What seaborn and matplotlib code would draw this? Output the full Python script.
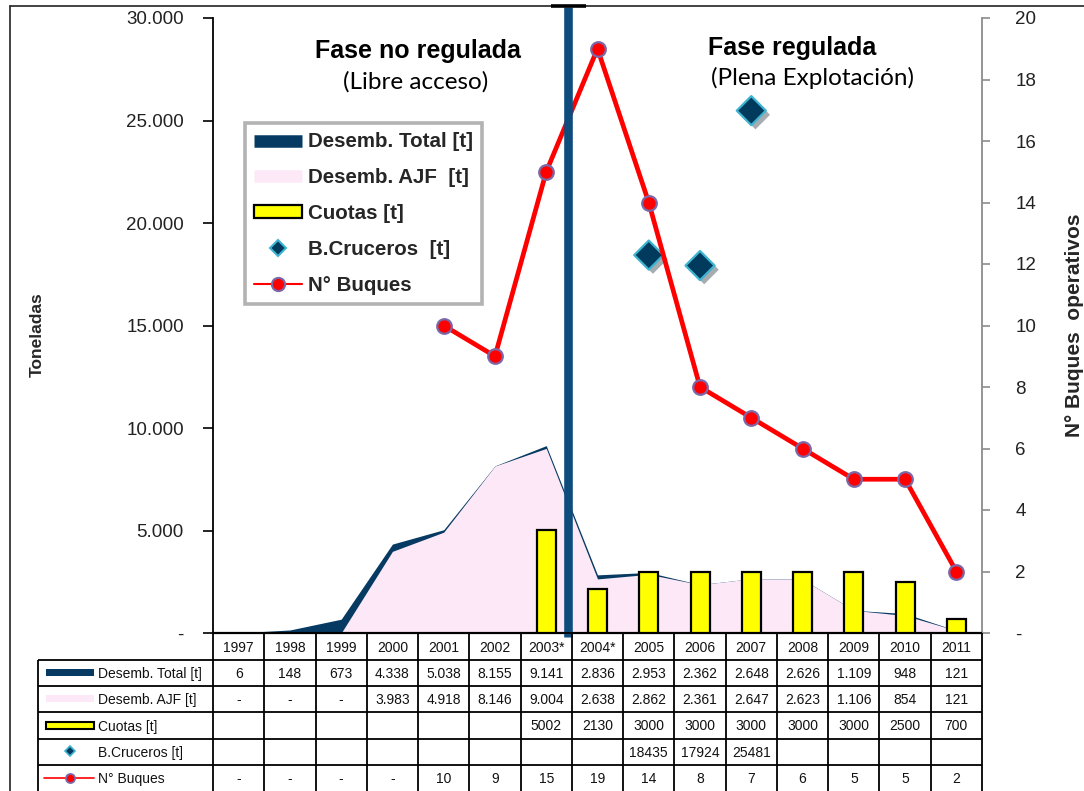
import numpy as np
import pandas as pd
import matplotlib
matplotlib.use("Agg")
import matplotlib.pyplot as plt
import matplotlib.patheffects as pe
from matplotlib.lines import Line2D
from matplotlib.patches import Patch, Rectangle
from matplotlib.ticker import FuncFormatter, MultipleLocator
import seaborn as sns

# ---------------- data ----------------
years = ['1997', '1998', '1999', '2000', '2001', '2002', '2003*', '2004*',
         '2005', '2006', '2007', '2008', '2009', '2010', '2011']
desemb_total = [6, 148, 673, 4338, 5038, 8155, 9141, 2836, 2953, 2362, 2648, 2626, 1109, 948, 121]
desemb_ajf = [np.nan, np.nan, np.nan, 3983, 4918, 8146, 9004, 2638, 2862, 2361, 2647, 2623, 1106, 854, 121]
cuotas = [np.nan] * 6 + [5002, 2130, 3000, 3000, 3000, 3000, 3000, 2500, 700]
cruceros = [np.nan] * 8 + [18435, 17924, 25481] + [np.nan] * 4
buques = [np.nan] * 4 + [10, 9, 15, 19, 14, 8, 7, 6, 5, 5, 2]
series_labels = ['Desemb. Total [t]', 'Desemb. AJF [t]', 'Cuotas [t]', 'B.Cruceros [t]', 'N° Buques']
legend_labels = ['Desemb. Total [t]', 'Desemb. AJF  [t]', 'Cuotas [t]', 'B.Cruceros  [t]', 'N° Buques']

df = pd.DataFrame({'year': years, 'total': desemb_total, 'ajf': desemb_ajf,
                   'cuotas': cuotas, 'cruceros': cruceros, 'buques': buques})
df['pos'] = np.arange(len(years))

# ---------------- style ----------------
sns.set_theme(style='white')
plt.rcParams['font.family'] = ['Liberation Sans', 'DejaVu Sans']

NAVY = '#073a63'
VLINE = '#0e4c7d'
PINK = '#fce8f6'
YELLOW = '#ffff00'
RED = '#ff0000'
MEDGE = '#7a68a8'
DIAM = '#003a5c'
DEDGE = '#3fb4d0'

W, H = 1084, 791
fig = plt.figure(figsize=(W / 100, H / 100), dpi=100)
fig.patch.set_facecolor('white')

L, R, T, B = 213, 982, 18, 633
ax = fig.add_axes([L / W, 1 - B / H, (R - L) / W, (B - T) / H])
ax.set_facecolor('none')
ax2 = ax.twinx()

# areas
x = df['pos'].to_numpy()
ax.fill_between(x, 0, df['total'].to_numpy(), color=NAVY, lw=0, zorder=1)
ax.fill_between(x, 0, df['ajf'].fillna(0).to_numpy(), color=PINK, lw=0, zorder=2)

# bars
sns.barplot(data=df, x='year', y='cuotas', order=years, ax=ax, color=YELLOW,
            saturation=1, edgecolor='black', linewidth=1.6, width=0.37, zorder=3)

# cruise survey diamonds
sns.scatterplot(data=df, x='pos', y='cruceros', ax=ax, marker='D', s=220,
                color=DIAM, edgecolor=DEDGE, linewidth=1.6, zorder=5,
                path_effects=[pe.SimplePatchShadow(offset=(3, -3), alpha=0.35), pe.Normal()])

# number of vessels
sns.lineplot(data=df, x='pos', y='buques', ax=ax2, color=RED, lw=3.4, marker='o',
             markersize=10.5, markerfacecolor=RED, markeredgecolor=MEDGE,
             markeredgewidth=1.6, zorder=6)

# axes settings
ax.set_xlim(-0.5, len(years) - 0.5)
ax.set_ylim(0, 30000)
ax2.set_ylim(0, 20)
ax.yaxis.set_major_locator(MultipleLocator(5000))
ax2.yaxis.set_major_locator(MultipleLocator(2))
ax.yaxis.set_major_formatter(FuncFormatter(lambda v, p: '-' if v == 0 else f"{int(v):,}".replace(',', '.')))
ax2.yaxis.set_major_formatter(FuncFormatter(lambda v, p: '-' if v == 0 else f"{int(v)}"))
ax.set_xticks([])
ax.set_xlabel('')
ax.set_ylabel('')
ax2.set_ylabel('')
ax2.set_xlabel('')
for a in (ax, ax2):
    a.spines['top'].set_visible(False)
ax.spines['right'].set_visible(False)
ax2.spines['left'].set_visible(False)
ax2.spines['bottom'].set_visible(False)
ax.spines['left'].set_color('black')
ax.spines['left'].set_linewidth(1.3)
ax.spines['bottom'].set_color('black')
ax.spines['bottom'].set_linewidth(1.6)
ax2.spines['right'].set_color('#8c8c8c')
ax2.spines['right'].set_linewidth(1.3)
ax.tick_params(axis='y', left=True, direction='out', length=7, width=1.2, color='black',
               labelsize=13.5, labelcolor='#222222', pad=14)
ax2.tick_params(axis='y', right=True, direction='out', length=6, width=1.2, color='#8c8c8c',
                labelsize=13.5, labelcolor='#222222', pad=18)

# phase separator
ax2.plot([6.42, 6.42], [-0.007, 1.018], transform=ax2.get_xaxis_transform(), color=VLINE,
         lw=6.2, solid_capstyle='butt', clip_on=False, zorder=10)

# annotations
ax2.text(0.2666, 0.946, 'Fase no regulada', transform=ax2.transAxes, ha='center', va='center',
         fontsize=18, fontweight='bold', color='black', zorder=11)
ax2.text(0.264, 0.897, '(Libre acceso)', transform=ax2.transAxes, ha='center', va='center',
         fontsize=17.5, family=['Lato', 'DejaVu Sans'], color='black', zorder=11)
ax2.text(0.753, 0.951, 'Fase regulada', transform=ax2.transAxes, ha='center', va='center',
         fontsize=18, fontweight='bold', color='black', zorder=11)
ax2.text(0.779, 0.902, '(Plena Explotación)', transform=ax2.transAxes, ha='center', va='center',
         fontsize=17.5, family=['Lato', 'DejaVu Sans'], color='black', zorder=11)

# axis titles
fig.text(37 / W, 1 - 335 / H, 'Toneladas', rotation=90, ha='center', va='center',
         fontsize=12.5, fontweight='bold')
fig.text(1075 / W, 1 - 325 / H, 'N° Buques  operativos', rotation=90, ha='center', va='center',
         fontsize=15, fontweight='bold')

# legend
handles = [
    Line2D([], [], color=NAVY, lw=9, solid_capstyle='butt'),
    Line2D([], [], color=PINK, lw=9, solid_capstyle='butt'),
    Patch(facecolor=YELLOW, edgecolor='black', linewidth=1.6),
    Line2D([], [], ls='none', marker='D', markersize=8, markerfacecolor=DIAM,
           markeredgecolor=DEDGE, markeredgewidth=1.5),
    Line2D([], [], color=RED, lw=1.5, marker='o', markersize=9.5, markerfacecolor=RED,
           markeredgecolor=MEDGE, markeredgewidth=1.5),
]
leg = fig.legend(handles, legend_labels, loc='upper left', bbox_to_anchor=(245 / W, 1 - 123 / H),
                 frameon=True, fancybox=False, edgecolor='#b3b3b3', framealpha=1,
                 prop={'weight': 'bold', 'size': 14.8}, handlelength=2.3, handleheight=0.55,
                 labelspacing=0.82, borderpad=0.45, handletextpad=0.3, borderaxespad=0)
leg.get_frame().set_linewidth(2.6)
leg.set_zorder(20)

# ---------------- table ----------------
axt = fig.add_axes([0, 0, 1, 1])
axt.set_xlim(0, W)
axt.set_ylim(H, 0)
axt.axis('off')
cw = (R - L) / len(years)
rows_y = [633, 660, 686, 712, 739, 765, 791]
lk = dict(color='black', lw=1.3, solid_capstyle='butt')
axt.plot([L, R], [rows_y[0], rows_y[0]], **lk)
for yy in rows_y[1:-1]:
    axt.plot([38, R], [yy, yy], **lk)
for i in range(len(years) + 1):
    axt.plot([L + i * cw, L + i * cw], [rows_y[0], H], **lk)
axt.plot([38, 38], [rows_y[1], H], **lk)


def fmt_th(v):
    return '-' if pd.isna(v) else f"{int(v):,}".replace(',', '.')


def fmt_plain(v, blank=''):
    return blank if pd.isna(v) else f"{int(v)}"


table_rows = [
    [fmt_th(v) for v in desemb_total],
    [fmt_th(v) for v in desemb_ajf],
    [fmt_plain(v) for v in cuotas],
    [fmt_plain(v) for v in cruceros],
    [fmt_plain(v, '-') for v in buques],
]
tfs = 10
for i, yr in enumerate(years):
    axt.text(L + (i + 0.5) * cw, (rows_y[0] + rows_y[1]) / 2 + 1, yr, ha='center', va='center',
             fontsize=tfs, color='#111111')
for r, vals in enumerate(table_rows):
    yc = (rows_y[r + 1] + rows_y[r + 2]) / 2 + 1
    for i, s in enumerate(vals):
        axt.text(L + (i + 0.5) * cw, yc, s, ha='center', va='center', fontsize=tfs, color='#111111')
    axt.text(98, yc, series_labels[r], ha='left', va='center', fontsize=tfs, color='#111111')

# row glyphs
g0, g1 = 46, 94
yc = [(rows_y[k] + rows_y[k + 1]) / 2 for k in range(1, 6)]
axt.add_patch(Rectangle((g0, yc[0] - 4.5), g1 - g0, 7, facecolor=NAVY, edgecolor='none'))
axt.add_patch(Rectangle((g0, yc[1] - 4.5), g1 - g0, 7, facecolor=PINK, edgecolor='none'))
axt.add_patch(Rectangle((g0, yc[2] - 4), g1 - g0, 7, facecolor=YELLOW, edgecolor='black', lw=1.5))
axt.plot([70], [yc[3] - 1], ls='none', marker='D', markersize=5, markerfacecolor=DIAM,
         markeredgecolor=DEDGE, markeredgewidth=1.2)
axt.plot([44, 94], [yc[4], yc[4]], color=RED, lw=1.2)
axt.plot([70], [yc[4]], ls='none', marker='o', markersize=6.5, markerfacecolor=RED,
         markeredgecolor=MEDGE, markeredgewidth=1.3)

# figure frame
axt.plot([10, 10], [H, 6], color='#222222', lw=1.2)
axt.plot([10, W], [6, 6], color='#222222', lw=1.2)
axt.plot([551, 586], [6, 6], color='black', lw=2.6, solid_capstyle='butt')

fig.savefig('out.png', dpi=100)
